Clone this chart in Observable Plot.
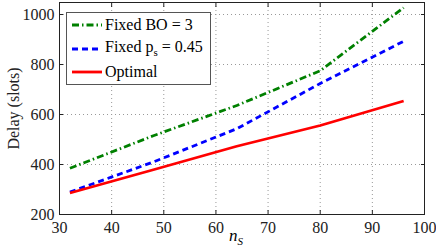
<!DOCTYPE html>
<html><head><meta charset="utf-8">
<script src="https://cdn.jsdelivr.net/npm/d3@7"></script>
<script src="https://cdn.jsdelivr.net/npm/@observablehq/plot@0.6"></script>
<style>
body{margin:0;background:#fff;}
#wrap{position:relative;width:436px;height:250px;font-family:'Liberation Serif','Times New Roman',Times,serif;}
#wrap svg text{font-family:'Liberation Serif','Times New Roman',Times,serif;}
#legend{position:absolute;left:66px;top:12px;width:145px;height:73px;border:1px solid #555;background:#fff;box-sizing:border-box;font-size:16px;font-family:'Liberation Serif','Times New Roman',Times,serif;}
.row{position:absolute;left:5px;height:20px;display:flex;align-items:center;}
.row svg{margin-right:3px;}
#xlab{position:absolute;left:229px;top:226px;font-size:17px;font-style:italic;font-family:'Liberation Serif','Times New Roman',Times,serif;}
#xlab sub{font-size:11px;}
</style></head>
<body><div id="wrap"></div>
<script>
const ns = [32, 48, 64, 80, 96];
const bo3 = [385, 515, 636, 775, 1027];
const ps045 = [290, 410, 543, 724, 893];
const optimal = [286, 379, 473, 556, 654];
const xTicks = [30, 40, 50, 60, 70, 80, 90, 100];
const yTicks = [200, 400, 600, 800, 1000];

const series = [
  {name: "Fixed BO = 3", values: bo3, color: "#008000", dash: "7,3,1.5,3"},
  {name: "Fixed ps = 0.45", values: ps045, color: "#0000ff", dash: "6,4"},
  {name: "Optimal", values: optimal, color: "#ff0000", dash: null}
];
const rows = series.flatMap(s => ns.map((n, i) => ({n, v: s.values[i], name: s.name})));

const lineMarks = series.map(s => Plot.line(rows.filter(r => r.name === s.name), {
  x: "n", y: "v", stroke: s.color, strokeWidth: 2.8, strokeDasharray: s.dash, strokeLinecap: "butt"
}));

const serif = "'Liberation Serif', 'Times New Roman', Times, serif";
const chart = Plot.plot({
  width: 436, height: 250,
  marginLeft: 59, marginRight: 12, marginTop: 2, marginBottom: 36,
  style: {fontFamily: serif, fontSize: "16px", color: "#222", background: "white"},
  x: {domain: [30, 100]},
  y: {domain: [200, 1048]},
  marks: [
    Plot.gridX(xTicks, {stroke: "#999", strokeOpacity: 1, strokeDasharray: "1,3"}),
    Plot.gridY(yTicks, {stroke: "#999", strokeOpacity: 1, strokeDasharray: "1,3"}),
    ...lineMarks,
    Plot.axisX({ticks: xTicks, tickSize: 0, tickPadding: 7, label: null, fontSize: 16, tickFormat: d3.format("d")}),
    Plot.axisY({ticks: yTicks, tickSize: 0, tickPadding: 5, label: "Delay (slots)", labelAnchor: "center", labelOffset: 52, labelArrow: "none", fontSize: 16, tickFormat: d3.format("d")}),
    Plot.axisX({ticks: xTicks, anchor: "bottom", tickSize: -4, tickFormat: () => "", label: null}),
    Plot.axisX({ticks: xTicks, anchor: "top", tickSize: -4, tickFormat: () => "", label: null}),
    Plot.axisY({ticks: yTicks, anchor: "left", tickSize: -4, tickFormat: () => "", label: null}),
    Plot.axisY({ticks: yTicks, anchor: "right", tickSize: -4, tickFormat: () => "", label: null}),
    Plot.frame({stroke: "#222", strokeWidth: 1})
  ]
});
const wrap = document.getElementById("wrap");
wrap.appendChild(chart);

const legend = document.createElement("div");
legend.id = "legend";
const labels = ["Fixed BO = 3", "Fixed p<sub style='font-size:11px'>s</sub> = 0.45", "Optimal"];
series.forEach((s, i) => {
  const row = document.createElement("div");
  row.className = "row";
  row.style.top = (2 + i * 23.5) + "px";
  row.innerHTML = `<svg width="30" height="10"><line x1="0" y1="5" x2="30" y2="5" stroke="${s.color}" stroke-width="2.8" ${s.dash ? `stroke-dasharray="${s.dash}"` : ""}/></svg><span>${labels[i]}</span>`;
  legend.appendChild(row);
});
wrap.appendChild(legend);

const xl = document.createElement("div");
xl.id = "xlab";
xl.innerHTML = "n<sub>S</sub>";
wrap.appendChild(xl);
</script></body></html>
